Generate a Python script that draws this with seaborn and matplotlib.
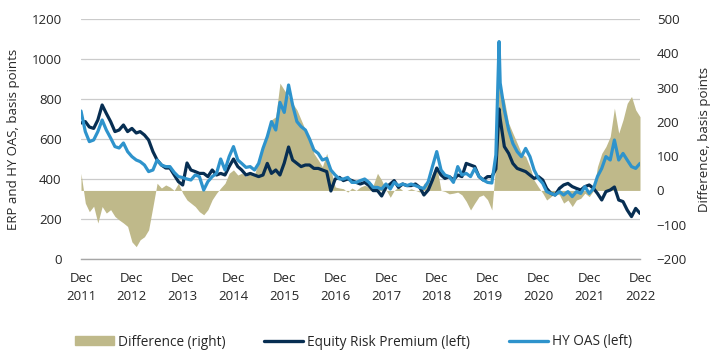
import pandas as pd
import matplotlib.pyplot as plt
import matplotlib.patches as mpatches
import matplotlib.lines as mlines
import seaborn as sns

# month-end readings, Dec 2011 .. Dec 2022, plus the intramonth Covid peak (23 Mar 2020)
erp = [680,
       687, 660, 653, 695, 770, 728, 687, 637, 645, 670, 637, 653,
       630, 637, 620, 595, 537, 495, 470, 455, 455, 420, 387, 370,
       480, 445, 437, 428, 428, 412, 445, 420, 428, 420, 462, 500,
       462, 445, 420, 428, 420, 412, 420, 478, 428, 445, 420, 480,
       560, 495, 478, 462, 470, 470, 453, 453, 445, 437, 340, 400,
       408, 392, 400, 392, 383, 375, 383, 367, 342, 342, 315, 358,
       375, 392, 358, 375, 367, 367, 375, 358, 320, 345, 395, 455,
       420, 403, 412, 395, 420, 412, 478, 470, 462, 412, 395, 412,
       412, 450, 750, 700, 562, 528, 478, 453, 445, 437, 420, 403, 412,
       395, 353, 328, 320, 353, 370, 378, 362, 353, 345, 362, 370,
       353, 328, 295, 337, 345, 360, 295, 287, 245, 212, 253, 228]

hy_oas = [740,
          637, 587, 595, 637, 695, 645, 605, 562, 555, 580, 537, 512,
          495, 487, 470, 437, 445, 495, 470, 462, 462, 433, 412, 407,
          400, 395, 420, 412, 345, 387, 412, 428, 500, 445, 512, 562,
          495, 478, 458, 462, 445, 478, 553, 612, 687, 645, 783, 733,
          870, 770, 687, 662, 645, 600, 545, 528, 495, 503, 445, 420,
          400, 400, 408, 383, 383, 392, 400, 383, 358, 358, 350, 375,
          350, 383, 367, 375, 367, 375, 367, 358, 353, 387, 462, 537,
          445, 420, 412, 383, 462, 420, 428, 412, 453, 412, 395, 383,
          380, 520, 1087, 880, 745, 645, 578, 537, 512, 553, 512, 445, 403,
          378, 337, 328, 320, 337, 320, 337, 312, 337, 328, 362, 328,
          353, 412, 453, 512, 495, 595, 495, 528, 495, 462, 453, 478]

difference = [50,
              -37, -62, -46, -95, -47, -66, -56, -76, -86, -95, -105, -150,
              -164, -144, -135, -115, -47, 21, 7, 16, 10, 0, 21, -8,
              -28, -37, -47, -62, -71, -56, -27, -8, 7, 21, 50, 60,
              45, 50, 40, 55, 45, 89, 128, 167, 206, 215, 313, 293,
              274, 254, 235, 206, 176, 157, 108, 89, 69, 108, 60, 10,
              7, 5, -5, 7, 0, 10, 15, 10, 15, 50, 30, 2,
              -20, 0, 10, 0, 0, 5, 0, -5, 21, 21, 50, 70,
              0, -3, -10, -8, -5, -13, -32, -57, -37, -18, -13, -27,
              -57, 80, 330, 288, 264, 196, 167, 138, 108, 99, 69, 30, 10,
              -8, -28, -18, -8, -13, -37, -28, -47, -28, -23, -8, -18,
              0, 69, 108, 128, 157, 240, 167, 206, 254, 274, 235, 215]

dates = list(pd.date_range("2011-12-31", "2022-12-31", freq="ME"))
dates.insert(99, pd.Timestamp("2020-03-23"))
tick_years = list(range(2011, 2023))

df = pd.DataFrame({"date": dates, "erp": erp, "hy": hy_oas, "diff": difference})

sns.set_theme(style="white")
plt.rcParams["font.family"] = ["Open Sans", "DejaVu Sans"]

khaki = "#BFB98A"
navy = "#072E52"
blue = "#2E93CC"
txt = "#262626"

fig = plt.figure(figsize=(7.19, 3.59), dpi=100)
ax = fig.add_axes([81 / 719, 1 - 259 / 359, 559 / 719, 240 / 359])
ax2 = ax.twinx()
ax2.set_ylim(-200, 500)
ax.set_ylim(0, 1200)

# area belongs to the right axis but is drawn inside ax so it sits between grid and lines
ax.fill_between(df["date"], 0, df["diff"], transform=ax2.transData,
                color=khaki, linewidth=0, zorder=1)
sns.lineplot(data=df, x="date", y="erp", ax=ax, color=navy, linewidth=2.3, zorder=3)
sns.lineplot(data=df, x="date", y="hy", ax=ax, color=blue, linewidth=2.3, zorder=4)

ax.set_xlim(dates[0], dates[-1])
ax.set_xticks([pd.Timestamp(f"{y}-12-31") for y in tick_years])
ax.set_xticklabels([f"Dec\n{y}" for y in tick_years], linespacing=1.6)
ax.set_yticks(range(0, 1201, 200))
ax2.set_yticks(range(-200, 501, 100))

ax.grid(axis="y", color="#CBCBCB", linewidth=0.9)
ax.grid(axis="x", visible=False)
ax.set_axisbelow(True)
for a in (ax, ax2):
    for s in ("top", "left", "right"):
        a.spines[s].set_visible(False)
ax2.spines["bottom"].set_visible(False)
ax.spines["bottom"].set_color("#A6A6A6")
ax.spines["bottom"].set_linewidth(1.0)

ax.tick_params(axis="x", length=5, width=1, color="#A6A6A6", pad=4, labelsize=9.5, labelcolor=txt)
ax.tick_params(axis="y", length=0, pad=14, labelsize=9.5, labelcolor=txt)
ax2.tick_params(axis="y", length=0, pad=12, labelsize=9.5, labelcolor=txt)

ax.set_xlabel("")
ax.set_ylabel("ERP and HY OAS, basis points", fontsize=9.5, color=txt, labelpad=8)
ax2.set_ylabel("Difference, basis points", fontsize=9.5, color=txt, labelpad=8)

handles = [mpatches.Patch(color=khaki, label="Difference (right)"),
           mlines.Line2D([], [], color=navy, linewidth=2.4, label="Equity Risk Premium (left)"),
           mlines.Line2D([], [], color=blue, linewidth=2.4, label="HY OAS (left)")]
fig.legend(handles=handles, loc="center left", bbox_to_anchor=(75 / 719, 1 - 342 / 359),
           ncol=3, frameon=False, fontsize=9.8, handlelength=2.85, handleheight=0.6,
           handletextpad=0.3, columnspacing=2.85, borderpad=0, borderaxespad=0,
           labelcolor=txt)

fig.savefig("out.png", dpi=100)
